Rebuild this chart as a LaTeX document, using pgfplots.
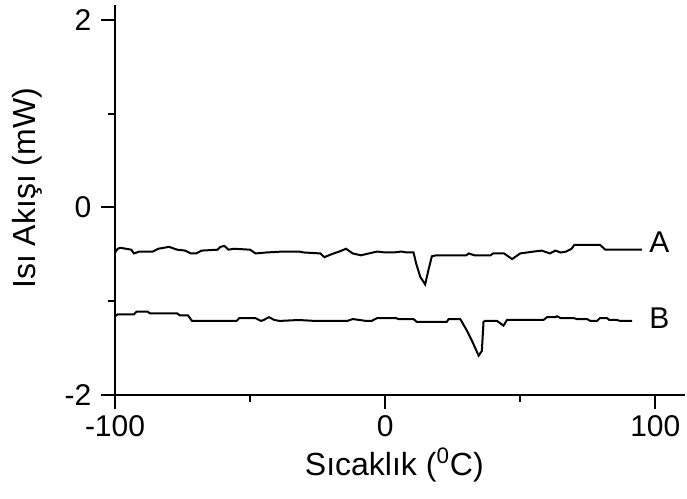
\documentclass[border=0pt]{standalone}
\usepackage{fontspec}
\setmainfont{Liberation Sans}
\usepackage{pgfplots}
\pgfplotsset{compat=1.18}

\begin{document}
\begin{tikzpicture}
\begin{axis}[
    scale only axis,
    width=285pt, height=195pt,
    xmin=-100, xmax=111,
    ymin=-2, ymax=2.16,
    axis lines*=left,
    axis line style={line width=1pt},
    tick style={line width=1pt, black},
    tick align=outside,
    major tick length=7pt,
    xtick={-100,0,100}, xticklabels={-100,0,100},
    ytick={-2,0,2}, yticklabels={-2,0,2},
    extra x ticks={-50,50}, extra x tick labels={},
    extra x tick style={major tick length=3.5pt, tick align=outside},
    extra y ticks={-1,1}, extra y tick labels={},
    extra y tick style={major tick length=3.5pt, tick align=outside},
    ticklabel style={font=\fontsize{15}{17}\selectfont},
    xticklabel style={yshift=0.5pt},
    yticklabel style={xshift=-1.3pt},
    label style={font=\fontsize{16}{19}\selectfont},
    xlabel={Sıcaklık (\textsuperscript{0}C)},
    ylabel={Isı Akışı (mW)},
    xlabel style={at={(axis description cs:0.49,-0.18)}, anchor=center},
    ylabel style={at={(axis description cs:-0.154,0.53)}, anchor=center},
    clip=false,
]
\addplot[black, line width=1pt] coordinates {
(-100,-0.48) (-99,-0.44) (-98,-0.43) (-94,-0.45) (-93,-0.49) (-91,-0.47) (-86,-0.47) (-84,-0.44) (-80,-0.42) (-77,-0.45) (-74,-0.46) (-72,-0.49) (-70,-0.49) (-68,-0.46) (-62,-0.45) (-61,-0.42) (-59.5,-0.41) (-58,-0.45) (-56,-0.44) (-50,-0.45) (-48,-0.49) (-44,-0.48) (-38,-0.47) (-32,-0.47) (-30,-0.48) (-24,-0.49) (-22.5,-0.53) (-20,-0.50) (-17,-0.47) (-14.5,-0.44) (-12,-0.49) (-9,-0.51) (-6,-0.49) (-3,-0.47) (0,-0.48) (3,-0.48) (6,-0.47) (8,-0.48) (10.5,-0.48) (11.5,-0.60) (13,-0.74) (14.8,-0.82) (16,-0.67) (17.3,-0.52) (19,-0.51) (23,-0.51) (30,-0.51) (31,-0.49) (33,-0.51) (39,-0.51) (40,-0.49) (44,-0.49) (47,-0.55) (50,-0.49) (55,-0.47) (58,-0.46) (61,-0.49) (63,-0.46) (65,-0.48) (67,-0.47) (69,-0.44) (70,-0.40) (79.6,-0.40) (81.5,-0.45) (95,-0.45)
};
\addplot[black, line width=1pt] coordinates {
(-100,-1.16) (-99,-1.14) (-93,-1.14) (-92,-1.11) (-88,-1.11) (-87,-1.13) (-77,-1.13) (-76,-1.15) (-73,-1.15) (-71.5,-1.21) (-55,-1.21) (-54,-1.18) (-48,-1.18) (-46,-1.21) (-45,-1.2) (-43,-1.17) (-41,-1.2) (-39,-1.21) (-32,-1.2) (-26,-1.21) (-14,-1.21) (-12,-1.19) (-7,-1.21) (-5,-1.21) (-3,-1.18) (4,-1.18) (5,-1.19) (10.5,-1.19) (11.7,-1.22) (22.8,-1.22) (23.5,-1.19) (27.8,-1.19) (29,-1.25) (30.2,-1.31) (32.1,-1.42) (34.6,-1.58) (35.8,-1.53) (36.4,-1.22) (37,-1.21) (41.4,-1.21) (43.8,-1.26) (45.1,-1.2) (58.6,-1.2) (59.9,-1.17) (63,-1.17) (63.6,-1.16) (65,-1.18) (69.8,-1.18) (71,-1.19) (74.7,-1.19) (76,-1.21) (78.4,-1.21) (79.5,-1.18) (82.1,-1.18) (83,-1.2) (85.8,-1.2) (87,-1.21) (91.4,-1.21)
};
\node[anchor=center, font=\fontsize{15}{17}\selectfont] at (axis cs:101.5,-0.37) {A};
\node[anchor=center, font=\fontsize{15}{17}\selectfont] at (axis cs:101.5,-1.18) {B};
\path (axis description cs:-0.2018,-0.2667) rectangle (axis description cs:1.0035,1.0128);
\end{axis}
\end{tikzpicture}
\end{document}
